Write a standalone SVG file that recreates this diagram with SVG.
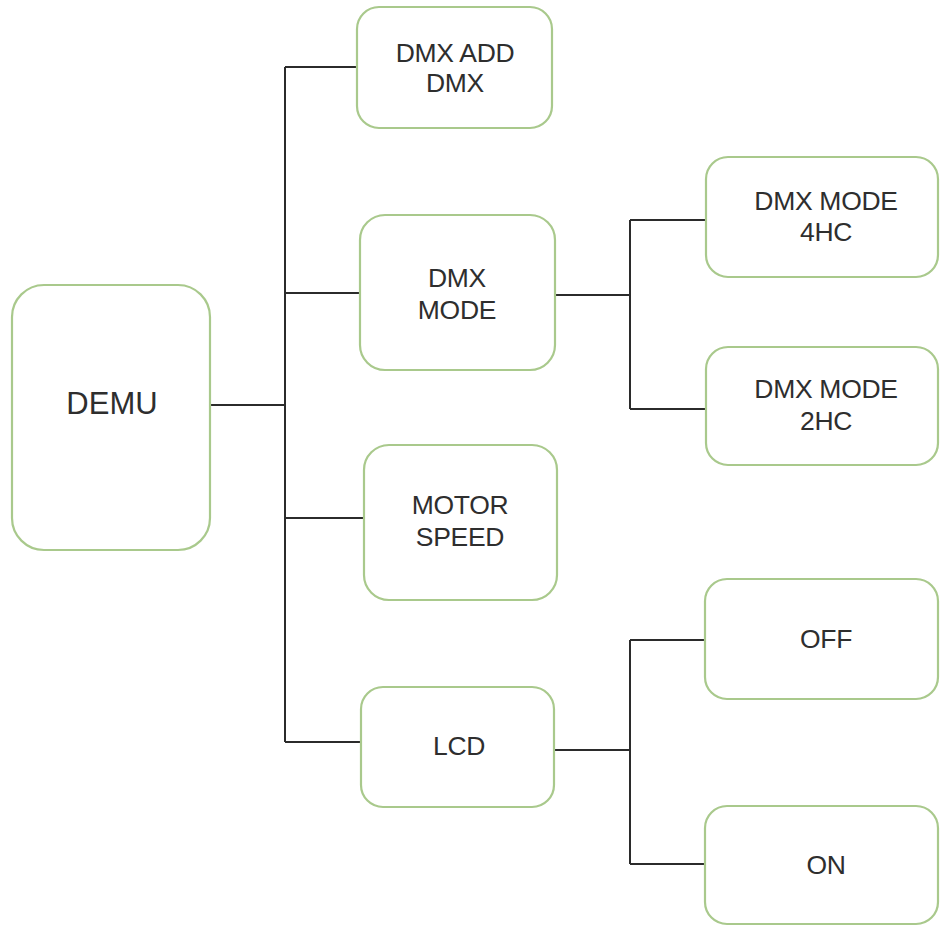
<svg xmlns="http://www.w3.org/2000/svg" width="940" height="926" viewBox="0 0 940 926">
<style>
.box{fill:#ffffff;stroke:#a9c98c;stroke-width:2.2}
.t{font-family:"Liberation Sans",Arial,sans-serif;font-size:26.5px;fill:#2e2e2e;text-anchor:middle;letter-spacing:-0.3px}
.big{font-size:31px;letter-spacing:0}
.c{fill:none;stroke:#2b2b2b;stroke-width:2}
</style>
<rect width="940" height="926" fill="#ffffff"/>
<g id="connectors">
<path class="c" d="M210 405H285M285 67V742M285 67H357M285 293H360M285 518H364M285 742H361"/>
<path class="c" d="M555 295H630M630 220V409M630 220H706M630 409H706"/>
<path class="c" d="M554 750H630M630 640V864M630 640H705M630 864H705"/>
</g>
<g id="demu"><rect class="box" x="12" y="285" width="198" height="265" rx="32"/><text class="t big" x="112" y="414">DEMU</text></g>
<g id="dmx-add"><rect class="box" x="357" y="7" width="195" height="121" rx="22"/><text class="t" x="455" y="62">DMX ADD</text><text class="t" x="455" y="92">DMX</text></g>
<g id="dmx-mode"><rect class="box" x="360" y="215" width="195" height="155" rx="25"/><text class="t" x="457" y="287">DMX</text><text class="t" x="457" y="319">MODE</text></g>
<g id="motor-speed"><rect class="box" x="364" y="445" width="193" height="155" rx="25"/><text class="t" x="460" y="514">MOTOR</text><text class="t" x="460" y="546">SPEED</text></g>
<g id="lcd"><rect class="box" x="361" y="687" width="193" height="120" rx="22"/><text class="t" x="459" y="755">LCD</text></g>
<g id="mode-4hc"><rect class="box" x="706" y="157" width="232" height="120" rx="22"/><text class="t" x="826" y="210">DMX MODE</text><text class="t" x="826" y="241">4HC</text></g>
<g id="mode-2hc"><rect class="box" x="706" y="347" width="232" height="118" rx="22"/><text class="t" x="826" y="398">DMX MODE</text><text class="t" x="826" y="430">2HC</text></g>
<g id="off"><rect class="box" x="705" y="579" width="233" height="120" rx="22"/><text class="t" x="826" y="648">OFF</text></g>
<g id="on"><rect class="box" x="705" y="806" width="233" height="118" rx="22"/><text class="t" x="826" y="874">ON</text></g>
</svg>
